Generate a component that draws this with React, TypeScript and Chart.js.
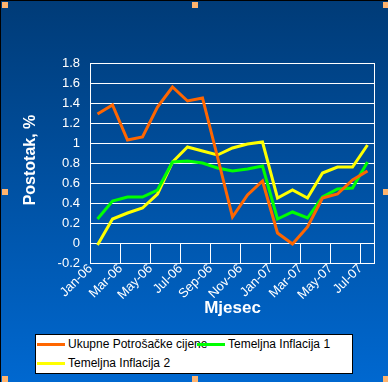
import React, { useEffect, useRef } from 'react';
import { Chart, registerables } from 'chart.js';
Chart.register(...registerables);

const months = ['Jan-06','Feb-06','Mar-06','Apr-06','May-06','Jun-06','Jul-06','Aug-06','Sep-06','Oct-06','Nov-06','Dec-06','Jan-07','Feb-07','Mar-07','Apr-07','May-07','Jun-07','Jul-07'];
const ukupne = [1.29,1.38,1.03,1.06,1.36,1.56,1.42,1.45,0.86,0.26,0.48,0.62,0.10,-0.01,0.16,0.45,0.49,0.63,0.72];
const temeljna1 = [0.24,0.42,0.46,0.46,0.53,0.81,0.82,0.80,0.75,0.72,0.74,0.77,0.24,0.31,0.25,0.46,0.54,0.55,0.81];
const temeljna2 = [-0.02,0.24,0.30,0.35,0.49,0.81,0.96,0.92,0.88,0.95,0.99,1.01,0.45,0.53,0.45,0.70,0.76,0.76,0.98];
const seriesNames = ['Ukupne Potrošačke cijene','Temeljna Inflacija 1','Temeljna Inflacija 2'];
const seriesColors = ['#ff6600','#00ff00','#ffff00'];
const yTitle = 'Postotak, %';
const xTitle = 'Mjesec';

const FONT = '"Liberation Sans", Arial, sans-serif';

const decor = {
  id: 'decor',
  beforeDraw(chart: any) {
    const { ctx, width, height } = chart;
    ctx.save();
    const g = ctx.createLinearGradient(0, 0, 0, height);
    g.addColorStop(0, '#003b77');
    g.addColorStop(1, '#0068d0');
    ctx.fillStyle = g;
    ctx.fillRect(0, 0, width, height);
    ctx.restore();
  },
  beforeDatasetsDraw(chart: any) {
    const { ctx, chartArea: ca } = chart;
    const xs = chart.scales.x, ys = chart.scales.y;
    ctx.save();
    ctx.strokeStyle = '#ffffff';
    ctx.lineWidth = 1;
    const y0 = Math.round(ys.getPixelForValue(0));
    ctx.beginPath();
    for (let i = 2; i < months.length; i += 2) {
      const px = Math.round((xs.getPixelForValue(i - 1) + xs.getPixelForValue(i)) / 2) + 0.5;
      ctx.moveTo(px, y0);
      ctx.lineTo(px, ca.bottom);
    }
    ctx.stroke();
    ctx.strokeRect(Math.round(ca.left) + 0.5, Math.round(ca.top) + 0.5, Math.round(ca.width) - 1, Math.round(ca.height));
    ctx.restore();
  },
  afterDraw(chart: any) {
    const { ctx, chartArea: ca, width, height } = chart;
    ctx.save();
    ctx.fillStyle = '#ffffff';
    ctx.textAlign = 'center';
    ctx.textBaseline = 'middle';
    ctx.font = 'bold 17px ' + FONT;
    ctx.fillText(xTitle, (ca.left + ca.right) / 2, 308);
    ctx.translate(31, 160);
    ctx.rotate(-Math.PI / 2);
    ctx.font = 'bold 16px ' + FONT;
    ctx.fillText(yTitle, 0, 0);
    ctx.restore();
    ctx.save();
    ctx.fillStyle = '#000000';
    ctx.fillRect(0, 0, 1, height);
    ctx.fillRect(0, 0, width, 1);
    ctx.fillStyle = '#ffb46e';
    const hs = [[2, 2], [192, 2], [383, 2], [2, 189], [383, 189], [2, 376], [192, 376], [383, 376]];
    hs.forEach(([x, y]) => ctx.fillRect(x, y, 6, 6));
    ctx.restore();
  },
};

export default function App() {
  const ref = useRef<HTMLCanvasElement>(null);
  useEffect(() => {
    const chart = new Chart(ref.current as HTMLCanvasElement, {
      type: 'line',
      data: {
        labels: months,
        datasets: [ukupne, temeljna1, temeljna2].map((d, k) => ({
          label: seriesNames[k],
          data: d,
          borderColor: seriesColors[k],
          backgroundColor: seriesColors[k],
          borderWidth: 3,
          pointRadius: 0,
          tension: 0,
          fill: false,
        })),
      },
      options: {
        animation: false,
        responsive: false,
        layout: { padding: { left: 0, top: 63, right: 13, bottom: 0 } },
        plugins: { legend: { display: false }, tooltip: { enabled: false } },
        scales: {
          x: {
            offset: true,
            grid: { display: false, drawTicks: false },
            border: { display: false },
            ticks: {
              autoSkip: false,
              maxRotation: 45,
              minRotation: 45,
              padding: -2,
              labelOffset: -7,
              color: '#ffffff',
              font: { family: FONT, size: 13 },
              callback: (_v: any, i: number) => (i % 2 === 0 ? months[i] : ''),
            },
            afterFit: (s: any) => { s.height = 119; },
          },
          y: {
            min: -0.2,
            max: 1.8,
            grid: { color: '#ffffff', lineWidth: 1, drawTicks: false },
            border: { display: false },
            ticks: {
              stepSize: 0.2,
              padding: 10,
              color: '#ffffff',
              font: { family: FONT, size: 13 },
              callback: (v: any) => String(Number(Number(v).toFixed(1))),
            },
            afterFit: (s: any) => { s.width = 90; },
          },
        },
      },
      plugins: [decor],
    });
    return () => chart.destroy();
  }, []);

  const rowText: React.CSSProperties = { position: 'absolute', fontFamily: FONT, fontSize: 12, lineHeight: '14px', color: '#000', whiteSpace: 'nowrap' };
  const sample = (c: string, left: number, top: number): React.CSSProperties => ({ position: 'absolute', left, top, width: 28, height: 3, background: c });

  return (
    <div style={{ position: 'fixed', left: 0, top: 0, width: 388, height: 382 }}>
      <canvas ref={ref} width={388} height={382} style={{ display: 'block' }} />
      <div style={{ position: 'absolute', left: 35, top: 334, width: 318, height: 40, boxSizing: 'border-box', border: '1px solid #000', background: '#fff' }}>
        <div style={sample(seriesColors[0], 1, 8)} />
        <div style={{ ...rowText, left: 32, top: 2 }}>{seriesNames[0]}</div>
        <div style={sample(seriesColors[1], 161, 8)} />
        <div style={{ ...rowText, left: 192, top: 2 }}>{seriesNames[1]}</div>
        <div style={sample(seriesColors[2], 1, 27)} />
        <div style={{ ...rowText, left: 32, top: 21 }}>{seriesNames[2]}</div>
      </div>
    </div>
  );
}
